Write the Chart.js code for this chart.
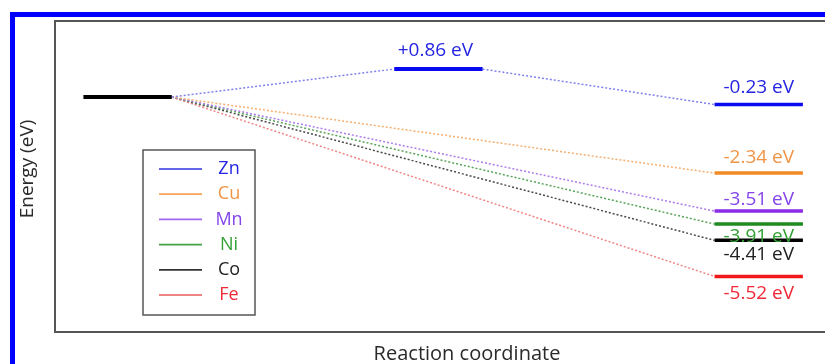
<!DOCTYPE html>
<html>
<head>
<meta charset="utf-8">
<script src="https://cdn.jsdelivr.net/npm/chart.js@4.4.1/dist/chart.umd.min.js"></script>
<style>
  html, body { margin: 0; padding: 0; background: #fff; overflow: hidden; }
  #wrap { width: 825px; height: 364px; }
</style>
</head>
<body>
<div id="wrap"><canvas id="chart" width="825" height="364"></canvas></div>
<script>
// energy profile data (eV)
const metals = ["Zn", "Cu", "Mn", "Ni", "Co", "Fe"];
const productEnergy = [-0.23, -2.34, -3.51, -3.91, -4.41, -5.52];
const reactantEnergy = 0;
const tsEnergy = 0.86; // only Zn goes through a transition state
const stageX = [0, 0.985, 2]; // reactant, TS, product
const yRange = [-7.23, 2.34];
const xRange = [-0.23, 2.21];

// styles
const levelColors = ["#0a0af0", "#f28a24", "#8a2be6", "#1f8a1f", "#000000", "#f01818"];
const dashColors = ["#8080f0", "#f5ae70", "#ac7cee", "#58a458", "#4a4a4a", "#f08484"];
const labelColors = ["#2424e2", "#f09446", "#8444ea", "#33a033", "#222222", "#f02838"];
const legendColors = ["#6666e8", "#f5a456", "#a466f0", "#44a044", "#333333", "#f08484"];
const labelOffset = [-17, -15, -12, 12, 14, 17];
const halfWidth = 0.14;
const font = "'Open Sans', sans-serif";

const datasets = [];

// connecting dashed lines
metals.forEach((m, i) => {
  let pts;
  if (i === 0) {
    pts = [
      { x: stageX[0] + halfWidth, y: reactantEnergy },
      { x: stageX[1] - halfWidth, y: tsEnergy },
      { x: NaN, y: NaN },
      { x: stageX[1] + halfWidth, y: tsEnergy },
      { x: stageX[2] - halfWidth, y: productEnergy[i] },
    ];
  } else {
    pts = [
      { x: stageX[0] + halfWidth, y: reactantEnergy },
      { x: stageX[2] - halfWidth, y: productEnergy[i] },
    ];
  }
  datasets.push({
    data: pts,
    borderColor: dashColors[i],
    borderWidth: 1.5,
    borderDash: [2, 2],
    pointRadius: 0,
    showLine: true,
    spanGaps: false,
    order: 2,
  });
});

// energy levels
function level(x, y, color, width) {
  datasets.push({
    data: [{ x: x - halfWidth, y: y }, { x: x + halfWidth, y: y }],
    borderColor: color,
    borderWidth: width,
    pointRadius: 0,
    showLine: true,
    order: 1,
  });
}
level(stageX[0], reactantEnergy, "#000000", 4);
level(stageX[1], tsEnergy, levelColors[0], 4);
metals.forEach((m, i) => level(stageX[2], productEnergy[i], levelColors[i], 3.5));

const decorPlugin = {
  id: "decor",
  beforeDraw(chart) {
    const ctx = chart.ctx;
    const a = chart.chartArea;
    ctx.save();
    ctx.fillStyle = "#fff";
    ctx.fillRect(0, 0, chart.width, chart.height);
    // outer blue frame
    ctx.fillStyle = "#0000ff";
    ctx.fillRect(10, 12, chart.width, 5);
    ctx.fillRect(10, 12, 5, chart.height);
    // plot box
    ctx.strokeStyle = "#555";
    ctx.lineWidth = 2;
    ctx.strokeRect(a.left, a.top, chart.width + 20, a.bottom - a.top);
    ctx.restore();
  },
  afterDraw(chart) {
    const ctx = chart.ctx;
    const xs = chart.scales.x, ys = chart.scales.y;
    ctx.save();
    ctx.textAlign = "center";
    ctx.textBaseline = "middle";
    // axis titles
    ctx.fillStyle = "#2a2a2a";
    ctx.font = "20px " + font;
    ctx.fillText("Reaction coordinate", 467, 354);
    ctx.save();
    ctx.translate(28, 169);
    ctx.rotate(-Math.PI / 2);
    ctx.font = "19px " + font;
    ctx.fillText("Energy (eV)", 0, 0);
    ctx.restore();
    // level labels
    ctx.font = "19px " + font;
    ctx.fillStyle = labelColors[0];
    ctx.fillText("+" + tsEnergy.toFixed(2) + " eV", xs.getPixelForValue(stageX[1]) - 3, ys.getPixelForValue(tsEnergy) - 19);
    metals.forEach((m, i) => {
      ctx.fillStyle = labelColors[i];
      ctx.fillText(productEnergy[i].toFixed(2) + " eV", xs.getPixelForValue(stageX[2]), ys.getPixelForValue(productEnergy[i]) + labelOffset[i]);
    });
    // legend
    const lx = 143, ly = 150, lw = 112, lh = 165;
    ctx.strokeStyle = "#555";
    ctx.lineWidth = 1.5;
    ctx.strokeRect(lx, ly, lw, lh);
    ctx.font = "18px " + font;
    metals.forEach((m, i) => {
      const y = ly + 19 + i * 25.2;
      ctx.strokeStyle = legendColors[i];
      ctx.lineWidth = 1.8;
      ctx.beginPath();
      ctx.moveTo(lx + 16, y);
      ctx.lineTo(lx + 59, y);
      ctx.stroke();
      ctx.fillStyle = labelColors[i];
      ctx.fillText(m, lx + 86, y);
    });
    ctx.restore();
  },
};

new Chart(document.getElementById("chart"), {
  type: "scatter",
  data: { datasets },
  options: {
    responsive: false,
    animation: false,
    layout: { padding: { left: 55, top: 21, right: 0, bottom: 32 } },
    scales: {
      x: { type: "linear", display: false, min: xRange[0], max: xRange[1] },
      y: { type: "linear", display: false, min: yRange[0], max: yRange[1] },
    },
    plugins: { legend: { display: false }, tooltip: { enabled: false } },
  },
  plugins: [decorPlugin],
});
</script>
</body>
</html>
